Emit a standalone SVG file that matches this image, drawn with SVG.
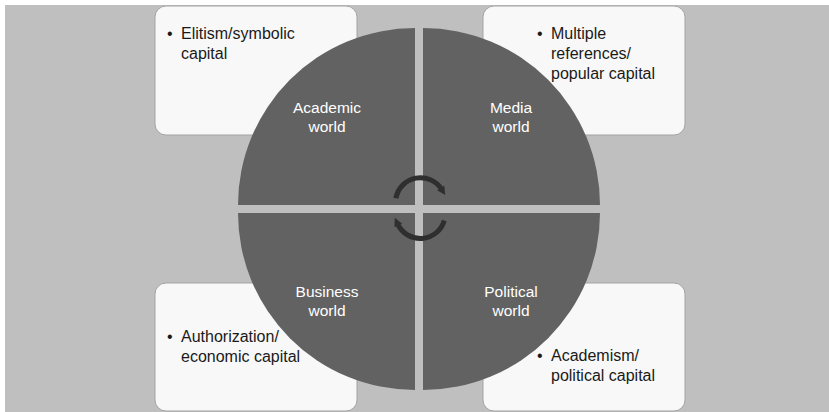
<svg xmlns="http://www.w3.org/2000/svg" width="829" height="412" viewBox="0 0 829 412">
  <style>
    .box { fill: #f8f8f8; stroke: #a3a3a3; stroke-width: 1; }
    .quad { fill: #626262; }
    .note { font-family: "Liberation Sans", Arial, sans-serif; font-size: 16px; fill: #1a1a1a; }
    .label { font-family: "Liberation Sans", Arial, sans-serif; font-size: 15.5px; fill: #ffffff; text-anchor: middle; }
    .cycle { fill: none; stroke: #2f2f2f; stroke-width: 5; }
  </style>
  <defs>
    <marker id="head" viewBox="0 0 10 10" refX="2" refY="5" markerWidth="1.7" markerHeight="2" orient="auto" markerUnits="strokeWidth">
      <path d="M0,0 L10,5 L0,10 Z" fill="#2f2f2f"/>
    </marker>
  </defs>

  <!-- backdrop -->
  <rect x="0" y="0" width="829" height="412" fill="#ffffff"/>
  <rect x="5" y="5" width="824" height="407" fill="#bfbfbf"/>

  <!-- note boxes sit behind the circle -->
  <g id="note-academic">
    <rect class="box" x="155" y="6" width="202" height="129" rx="11"/>
    <text class="note" x="167" y="39">•</text>
    <text class="note" x="181" y="39">Elitism/symbolic</text>
    <text class="note" x="181" y="59">capital</text>
  </g>
  <g id="note-media">
    <rect class="box" x="483" y="6" width="202" height="129" rx="11"/>
    <text class="note" x="537" y="39">•</text>
    <text class="note" x="551" y="39">Multiple</text>
    <text class="note" x="551" y="59">references/</text>
    <text class="note" x="551" y="79">popular capital</text>
  </g>
  <g id="note-business">
    <rect class="box" x="155" y="283" width="202" height="128" rx="11"/>
    <text class="note" x="167" y="342">•</text>
    <text class="note" x="181" y="342">Authorization/</text>
    <text class="note" x="181" y="362">economic capital</text>
  </g>
  <g id="note-political">
    <rect class="box" x="483" y="283" width="202" height="128" rx="11"/>
    <text class="note" x="537" y="361">•</text>
    <text class="note" x="551" y="361">Academism/</text>
    <text class="note" x="551" y="381">political capital</text>
  </g>

  <!-- four quarter sectors of the circle -->
  <g id="academic-world">
    <path class="quad" d="M415,205 L238,205 A177,177 0 0 1 415,28 Z"/>
    <text class="label" x="327" y="113">Academic</text>
    <text class="label" x="327" y="132">world</text>
  </g>
  <g id="media-world">
    <path class="quad" d="M423,205 L423,28 A177,177 0 0 1 600,205 Z"/>
    <text class="label" x="511" y="113">Media</text>
    <text class="label" x="511" y="132">world</text>
  </g>
  <g id="political-world">
    <path class="quad" d="M423,213 L600,213 A177,177 0 0 1 423,390 Z"/>
    <text class="label" x="511" y="297">Political</text>
    <text class="label" x="511" y="316">world</text>
  </g>
  <g id="business-world">
    <path class="quad" d="M415,213 L415,390 A177,177 0 0 1 238,213 Z"/>
    <text class="label" x="327" y="297">Business</text>
    <text class="label" x="327" y="316">world</text>
  </g>

  <!-- cycle arrows at the centre -->
  <g id="connectors">
    <path class="cycle" d="M395.9,198.2 A25,25 0 0 1 441.6,189.3" marker-end="url(#head)"/>
    <path class="cycle" d="M444.3,220.5 A25,25 0 0 1 397.6,223.9" marker-end="url(#head)"/>
  </g>
</svg>
